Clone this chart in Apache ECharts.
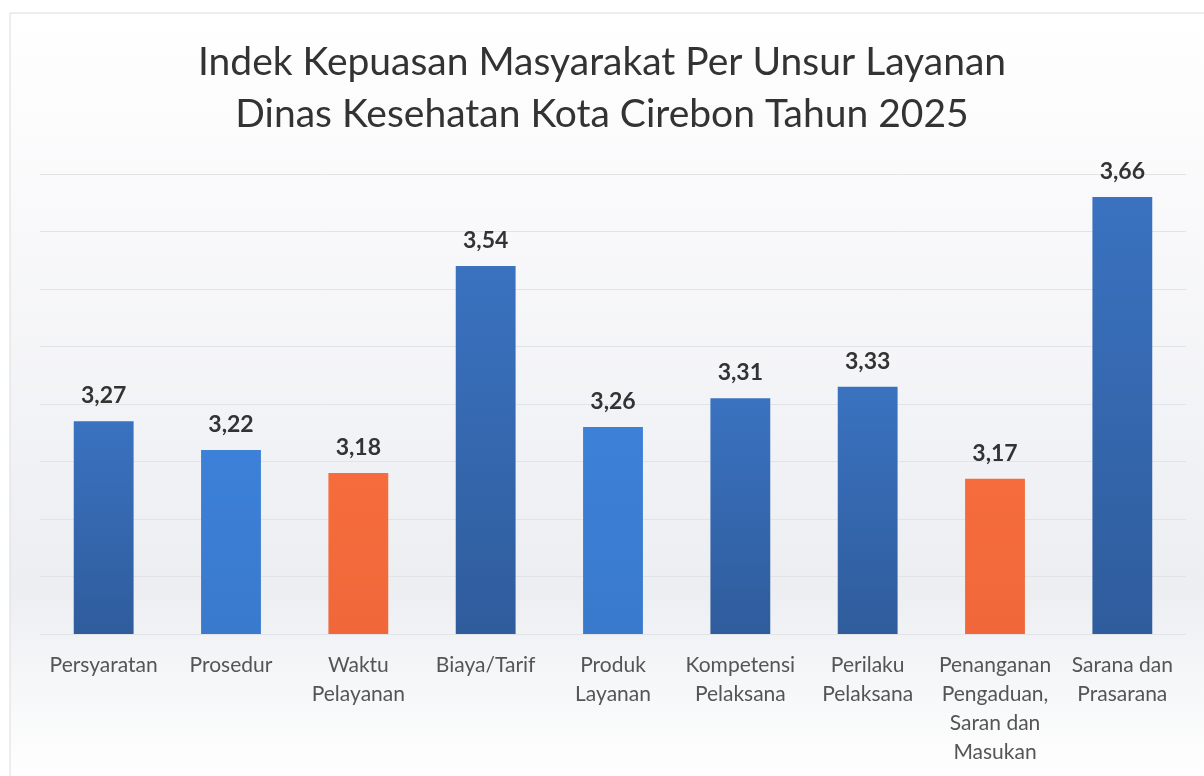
<!DOCTYPE html>
<html>
<head>
<meta charset="utf-8">
<script src="https://cdn.jsdelivr.net/npm/echarts@6/dist/echarts.min.js"></script>
<style>
  html, body { margin: 0; padding: 0; background: #fff; }
  #chart { width: 1204px; height: 776px; }
</style>
</head>
<body>
<div id="chart"></div>
<script>
// data
const categories = [
  'Persyaratan', 'Prosedur', 'Waktu\nPelayanan', 'Biaya/Tarif', 'Produk\nLayanan',
  'Kompetensi\nPelaksana', 'Perilaku\nPelaksana', 'Penanganan\nPengaduan,\nSaran dan\nMasukan', 'Sarana dan\nPrasarana'
];
const values = [3.27, 3.22, 3.18, 3.54, 3.26, 3.31, 3.33, 3.17, 3.66];
// 'dark' = darker blue, 'light' = brighter blue, 'low' = orange
const barKinds = ['dark', 'light', 'low', 'dark', 'light', 'dark', 'dark', 'low', 'dark'];

const chart = echarts.init(document.getElementById('chart'));

function grad(top, bottom) {
  return new echarts.graphic.LinearGradient(0, 0, 0, 1, [
    { offset: 0, color: top },
    { offset: 1, color: bottom }
  ]);
}
const kindColor = {
  dark: grad('#3a72c0', '#2f5c9c'),
  light: grad('#3c80d8', '#3a7acd'),
  low: grad('#f66c3c', '#f0683a')
};

const option = {
  backgroundColor: '#ffffff',
  graphic: [{
    type: 'rect',
    z: -10,
    shape: { x: 10, y: 13, width: 1200, height: 770 },
    style: {
      fill: new echarts.graphic.LinearGradient(0, 0, 0, 1, [
        { offset: 0, color: '#ffffff' },
        { offset: 0.3, color: '#f8f8fa' },
        { offset: 0.75, color: '#eceef2' },
        { offset: 0.84, color: '#f4f5f7' },
        { offset: 1, color: '#ffffff' }
      ]),
      stroke: '#dcdcdc',
      lineWidth: 1
    }
  }],
  title: {
    text: 'Indek Kepuasan Masyarakat Per Unsur Layanan\nDinas Kesehatan Kota Cirebon Tahun 2025',
    left: 'center',
    top: 31,
    textStyle: {
      fontFamily: 'Lato',
      fontWeight: 'normal',
      fontSize: 39,
      lineHeight: 52,
      color: '#333333'
    }
  },
  grid: { left: 40, right: 18, top: 174, bottom: 142 },
  xAxis: {
    type: 'category',
    data: categories,
    axisLine: { show: false },
    axisTick: { show: false },
    axisLabel: {
      interval: 0,
      margin: 17,
      fontFamily: 'Lato',
      fontSize: 21,
      lineHeight: 29,
      color: '#555555',
      verticalAlign: 'top'
    }
  },
  yAxis: {
    type: 'value',
    min: 2.9,
    max: 3.7,
    interval: 0.1,
    axisLabel: { show: false },
    axisLine: { show: false },
    axisTick: { show: false },
    splitLine: { lineStyle: { color: '#e2e3e6', width: 1 } }
  },
  series: [{
    type: 'bar',
    barWidth: '47%',
    data: values.map((v, i) => ({ value: v, itemStyle: { color: kindColor[barKinds[i]] } })),
    label: {
      show: true,
      position: 'top',
      distance: 14,
      fontFamily: 'Lato',
      fontWeight: 'bold',
      fontSize: 23,
      color: '#333333',
      formatter: p => p.value.toFixed(2).replace('.', ',')
    }
  }]
};

chart.setOption(option);
</script>
</body>
</html>
